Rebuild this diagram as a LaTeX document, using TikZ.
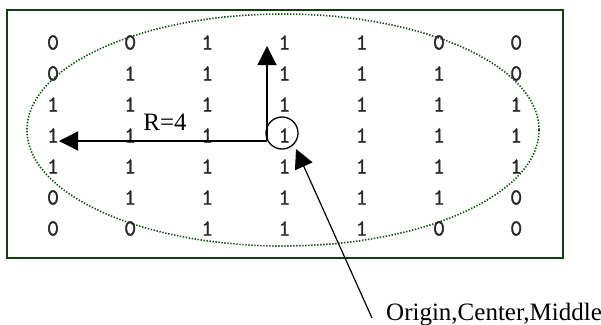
\documentclass[tikz,border=0pt]{standalone}
\usepackage{fontspec}
\setmainfont{Liberation Serif}
\newfontfamily\digitfont[Extension=.otf, FakeBold=1.2]{lmmono10-regular}
\usetikzlibrary{arrows.meta}
\definecolor{boxgreen}{RGB}{18,62,18}
\definecolor{dotgreen}{RGB}{20,80,20}
\definecolor{digitgray}{RGB}{40,40,40}
\tikzset{
  cell/.style={inner sep=0pt, text=digitgray, font=\digitfont\fontsize{23}{23}\selectfont},
  lbl/.style={inner sep=0pt, font=\fontsize{25}{29}\selectfont},
  arr/.style={line width=1.2pt, -{Triangle[length=19pt,width=19pt]}},
}
\begin{document}
\begin{tikzpicture}[x=1pt,y=-1pt]
\useasboundingbox (0,0) rectangle (601,324);
% frame
\draw[boxgreen, line width=2pt] (7,10) rectangle (563,258);
% dotted ellipse
\draw[dotgreen, line width=1.6pt, dash pattern=on 1.4pt off 1.6pt] (283,130) ellipse [x radius=256, y radius=116];
% matrix
\foreach \row [count=\r] in {{0,0,1,1,1,0,0},{0,1,1,1,1,1,0},{1,1,1,1,1,1,1},{1,1,1,1,1,1,1},{1,1,1,1,1,1,1},{0,1,1,1,1,1,0},{0,0,1,1,1,0,0}}{
  \foreach \v [count=\c] in \row {
    \node[cell] (m-\r-\c) at ({53+77.2*(\c-1)},{42.5+31*(\r-1)}) {\v};
  }
}
% circle around the centre
\node[draw, circle, line width=1.3pt, minimum size=32pt, inner sep=0pt] (ctr) at (282,133) {};
% radius arrows
\coordinate (corner) at (267,141);
\coordinate (vtip) at (267,46);
\coordinate (htip) at (59,141);
\draw[arr] (corner) -- (vtip);
\draw[arr] (corner) -- (htip);
\node[lbl, anchor=base] (rlabel) at (165,130) {R=4};
% origin label
\node[lbl, anchor=base west] (olabel) at (386,320) {Origin,Center,Middle};
\coordinate (ostart) at (372,318);
\coordinate (otip) at (296,149);
\draw[arr] (ostart) -- (otip);
\end{tikzpicture}
\end{document}
